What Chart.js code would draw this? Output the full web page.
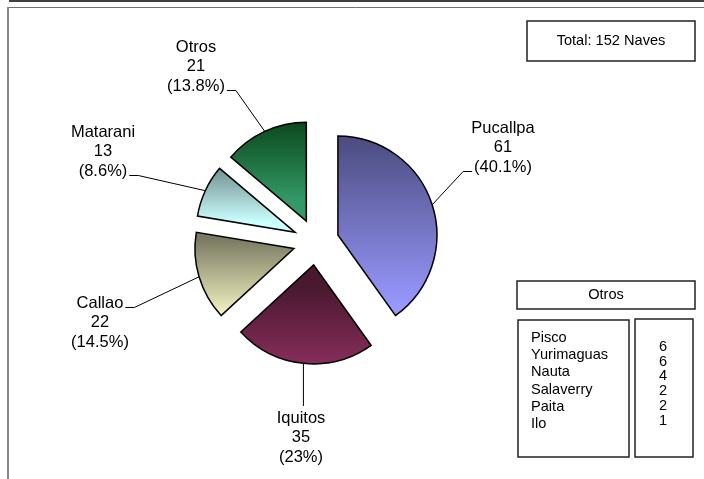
<!DOCTYPE html>
<html>
<head>
<meta charset="utf-8">
<script src="https://cdn.jsdelivr.net/npm/chart.js@4"></script>
<style>
  html, body { margin: 0; padding: 0; background: #fff; }
  canvas { display: block; }
</style>
</head>
<body>
<canvas id="navesChart" width="704" height="479"></canvas>
<script>
// Naves por puerto
const categories = ['Pucallpa', 'Iquitos', 'Callao', 'Matarani', 'Otros'];
const naves = [61, 35, 22, 13, 21];
const baseColors = ['#9999ff', '#993366', '#ffffcc', '#ccffff', '#339966'];
const darkColors = ['#48487a', '#4a1930', '#7a7a62', '#627c7c', '#003309'];

// detalle de "Otros"
const otrosPuertos = ['Pisco', 'Yurimaguas', 'Nauta', 'Salaverry', 'Paita', 'Ilo'];
const otrosNaves = [6, 6, 4, 2, 2, 1];

const total = naves.reduce((a, b) => a + b, 0);

const FONT = '"Liberation Sans", Arial, sans-serif';
const EXPLODE = 23;
const LINE_H = 19.5;

// where each label block sits and which side the leader line joins
const labelLayout = [
    { x: 503, y: 128, attach: 'left', line: 2 },
    { x: 301, y: 418, attach: 'top' },
    { x: 100, y: 303, attach: 'right', line: 0 },
    { x: 103, y: 132, attach: 'right', line: 2 },
    { x: 196, y: 47, attach: 'right', line: 2 }
];

function pct(v) {
    const p = Math.round(v / total * 1000) / 10;
    return (p % 1 === 0 ? p.toFixed(0) : p.toFixed(1)) + '%';
}

function sliceGeom(arc) {
    const p = arc.getProps(['x', 'y', 'startAngle', 'endAngle', 'outerRadius'], true);
    const mid = (p.startAngle + p.endAngle) / 2;
    const ax = p.x + Math.cos(mid) * EXPLODE;
    const ay = p.y + Math.sin(mid) * EXPLODE;
    return { ax, ay, mid, r: p.outerRadius, start: p.startAngle, end: p.endAngle };
}

const explodePlugin = {
    id: 'explode',
    beforeDatasetsDraw(chart) {
        const ctx = chart.ctx;
        const meta = chart.getDatasetMeta(0);
        meta.data.forEach((arc, i) => {
            const g = sliceGeom(arc);
            const ys = [g.ay, g.ay + g.r * Math.sin(g.start), g.ay + g.r * Math.sin(g.end)];
            [-Math.PI / 2, Math.PI / 2, 3 * Math.PI / 2].forEach(k => {
                if (k >= g.start - 1e-6 && k <= g.end + 1e-6) ys.push(g.ay + g.r * Math.sin(k));
            });
            const grad = ctx.createLinearGradient(0, Math.min(...ys), 0, Math.max(...ys));
            grad.addColorStop(0, darkColors[i]);
            grad.addColorStop(1, baseColors[i]);
            const saved = arc.options;
            arc.options = Object.assign({}, saved, { backgroundColor: grad });
            ctx.save();
            ctx.translate(g.ax - arc.x, g.ay - arc.y);
            arc.draw(ctx);
            ctx.restore();
            arc.options = saved;
        });
        return false;
    },
    afterDraw(chart) {
        const ctx = chart.ctx;
        ctx.save();

        // marco
        ctx.fillStyle = '#404040';
        ctx.fillRect(9, 0, 695, 2);
        ctx.strokeStyle = '#707070';
        ctx.lineWidth = 1;
        ctx.beginPath();
        ctx.moveTo(7, 7.5); ctx.lineTo(704, 7.5);
        ctx.stroke();
        ctx.strokeStyle = '#888';
        ctx.lineWidth = 2;
        ctx.beginPath();
        ctx.moveTo(8, 7); ctx.lineTo(8, 479);
        ctx.stroke();

        // etiquetas
        const meta = chart.getDatasetMeta(0);
        ctx.font = '16.5px ' + FONT;
        ctx.fillStyle = '#000';
        ctx.textAlign = 'center';
        ctx.textBaseline = 'middle';
        meta.data.forEach((arc, i) => {
            const g = sliceGeom(arc);
            const L = labelLayout[i];
            const lines = [categories[i], String(naves[i]), '(' + pct(naves[i]) + ')'];
            lines.forEach((t, j) => ctx.fillText(t, L.x, L.y + j * LINE_H));

            const px = g.ax + Math.cos(g.mid) * g.r;
            const py = g.ay + Math.sin(g.mid) * g.r;
            ctx.strokeStyle = '#000';
            ctx.lineWidth = 1;
            ctx.beginPath();
            ctx.moveTo(px, py);
            if (L.attach === 'top') {
                ctx.lineTo(px, L.y - 12);
            } else {
                const ly = L.y + L.line * LINE_H + 4.5;
                const w = ctx.measureText(lines[L.line]).width;
                const ex = L.attach === 'left' ? L.x - w / 2 - 2 : L.x + w / 2 + 2;
                const bx = L.attach === 'left' ? ex - 9 : ex + 9;
                ctx.lineTo(bx, ly);
                ctx.lineTo(ex, ly);
            }
            ctx.stroke();
        });

        // cajas
        ctx.strokeStyle = '#222';
        ctx.lineWidth = 1.5;
        ctx.strokeRect(527, 21, 168, 40);
        ctx.strokeRect(517, 281, 178, 28);
        ctx.strokeRect(518, 320, 111, 137);
        ctx.strokeRect(635, 319, 58, 138);

        ctx.font = '14.6px ' + FONT;
        ctx.textAlign = 'center';
        ctx.fillText('Total: ' + total + ' Naves', 611, 41);
        ctx.fillText('Otros', 606, 295);

        ctx.textAlign = 'left';
        otrosPuertos.forEach((p, j) => ctx.fillText(p, 531, 338 + j * 17.2));
        ctx.textAlign = 'center';
        otrosNaves.forEach((v, j) => ctx.fillText(String(v), 663, 347 + j * 14.7));

        ctx.restore();
    }
};

new Chart(document.getElementById('navesChart').getContext('2d'), {
    type: 'pie',
    data: {
        labels: categories,
        datasets: [{
            data: naves,
            backgroundColor: baseColors,
            borderColor: '#000',
            borderWidth: 1.5,
            borderJoinStyle: 'miter',
            radius: 99
        }]
    },
    options: {
        responsive: false,
        animation: false,
        events: [],
        layout: { padding: { left: 0, right: 72, top: 5, bottom: 0 } },
        plugins: {
            legend: { display: false },
            tooltip: { enabled: false },
            title: { display: false }
        }
    },
    plugins: [explodePlugin]
});
</script>
</body>
</html>
